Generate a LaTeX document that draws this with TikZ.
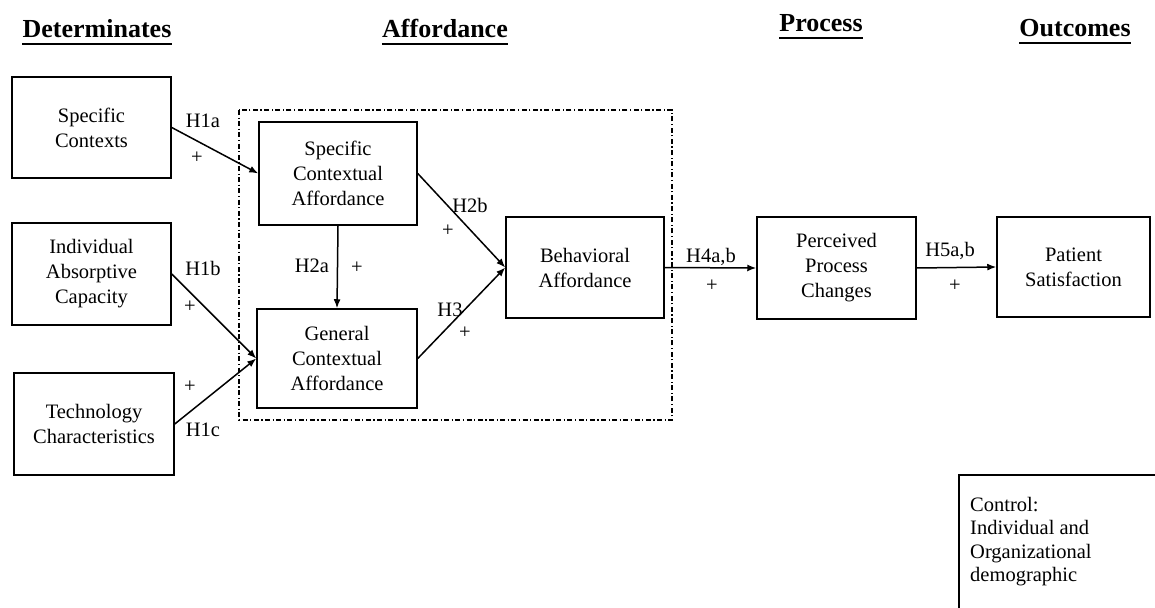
\documentclass[tikz,border=0pt]{standalone}
\usepackage{fontspec}
\setmainfont{Liberation Serif}
\usetikzlibrary{positioning, arrows.meta}

\begin{document}
\begin{tikzpicture}[x=1pt,y=-1pt,
  box/.style={draw,line width=1.5pt,align=center,inner sep=0pt,
    font=\fontsize{20.5}{25}\selectfont},
  hyp/.style={inner sep=0pt,font=\fontsize{20.5}{24}\selectfont},
  hdr/.style={inner sep=0pt,anchor=base,font=\fontsize{26}{30}\selectfont\bfseries},
  ul/.style={line width=2.8pt},
  arr/.style={-{Latex[length=9pt,width=7pt]},line width=1.5pt},
  dashdot box/.style={line width=1.3pt,dash pattern=on 5pt off 2.5pt on 1.2pt off 2.5pt}]

\useasboundingbox (0,0) rectangle (1155,607);

\node[hdr] (det) at (97,38) {Determinates};
\node[hdr] (aff) at (445,38) {Affordance};
\node[hdr] (pro) at (821,32) {Process};
\node[hdr] (out) at (1075,37) {Outcomes};
\foreach \h in {det,aff,pro,out}
  \draw[ul] ([yshift=-6pt]\h.base west) -- ([yshift=-6pt]\h.base east);

\draw[dashdot box] (239,110) rectangle (672,420);

\node[box,minimum width=159pt,minimum height=101pt] (sc) at (91.5,127.5) {Specific\\Contexts};
\node[box,minimum width=159pt,minimum height=102pt] (iac) at (91.5,274) {Individual\\Absorptive\\Capacity};
\node[box,minimum width=160pt,minimum height=102pt] (tc) at (94,424) {Technology\\Characteristics};

\node[box,minimum width=158pt,minimum height=103pt] (sca) at (338,173.5) {Specific\\Contextual\\Affordance};
\node[box,minimum width=160pt,minimum height=99pt] (gca) at (337,358.5) {General\\Contextual\\Affordance};
\node[box,minimum width=158pt,minimum height=101pt] (ba) at (585,267.5) {Behavioral\\Affordance};

\node[box,minimum width=159pt,minimum height=102pt] (ppc) at (836.5,268) {Perceived\\Process\\Changes};
\node[box,minimum width=153pt,minimum height=100pt] (ps) at (1073.5,267) {Patient\\Satisfaction};

\draw[arr] (sc.east) -- (sca.west);
\draw[arr] (iac.east) -- (gca.west);
\draw[arr] (tc.east) -- (gca.west);
\draw[arr] (sca.south) -- (gca.north);
\draw[arr] (sca.east) -- (ba.west);
\draw[arr] (gca.east) -- (ba.west);
\draw[arr] (ba.east) -- (ppc.west);
\draw[arr] (ppc.east) -- (ps.west);

\node[hyp] (h1a) at (203,121) {H1a};
\node[hyp] (p1a) at (197,158) {+};
\node[hyp] (h1b) at (203,268) {H1b};
\node[hyp] (p1b) at (190,307) {+};
\node[hyp] (p1c) at (190,387) {+};
\node[hyp] (h1c) at (203,430) {H1c};
\node[hyp] (h2a) at (312,266) {H2a};
\node[hyp] (p2a) at (357,268) {+};
\node[hyp] (h2b) at (470,205) {H2b};
\node[hyp] (p2b) at (448,231) {+};
\node[hyp] (h3) at (450,310) {H3};
\node[hyp] (p3) at (465,333) {+};
\node[hyp] (h4) at (711,257) {H4a,b};
\node[hyp] (p4) at (712,286) {+};
\node[hyp] (h5) at (950,251) {H5a,b};
\node[hyp] (p5) at (955,286) {+};

\begin{scope}
\clip (0,0) rectangle (1155,607);
\draw[line width=1.5pt] (959,620) |- (1170,475);
\end{scope}
\node[anchor=north west,inner sep=0pt,align=left,font=\fontsize{20.5}{23.5}\selectfont] (ctl) at (970,497)
  {Control:\\Individual and\\Organizational\\demographic};

\end{tikzpicture}
\end{document}
